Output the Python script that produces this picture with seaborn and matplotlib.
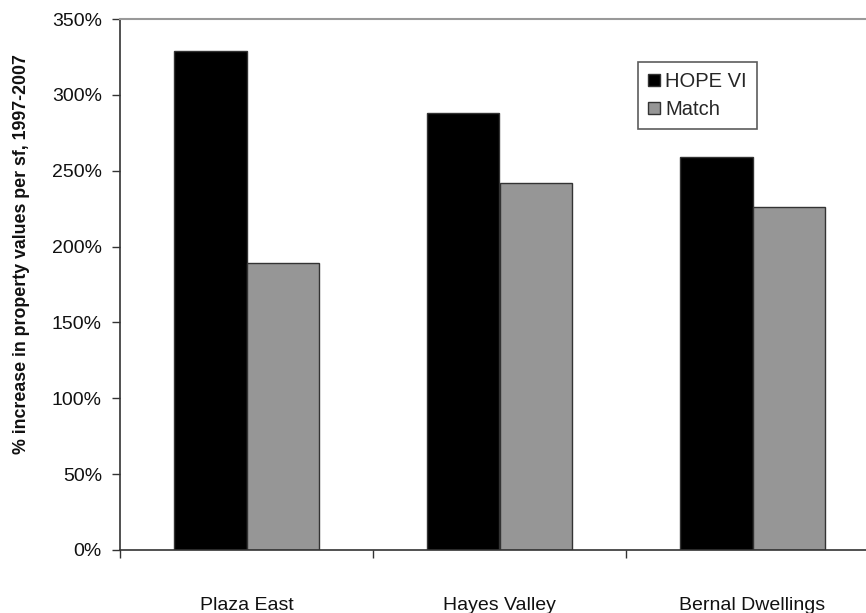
import numpy as np
import matplotlib.pyplot as plt
import seaborn as sns
import pandas as pd
from matplotlib.ticker import PercentFormatter, FixedLocator

sns.set_theme(style='white')
plt.rcParams['font.family'] = ['Liberation Sans', 'DejaVu Sans']

# Data
sites = ['Plaza East', 'Hayes Valley', 'Bernal Dwellings']
hope_vi = [329, 288, 259]
match = [189, 242, 226]

df = pd.DataFrame({
    'site': sites * 2,
    'group': ['HOPE VI'] * 3 + ['Match'] * 3,
    'pct': hope_vi + match,
})

fig = plt.figure(figsize=(8.66, 6.13), dpi=100)
ax = fig.add_axes([120 / 866, 1 - 550 / 613, 759 / 866, 531 / 613])

sns.barplot(data=df, x='site', y='pct', hue='group', ax=ax,
            palette=['#000000', '#969696'], width=0.57, saturation=1,
            edgecolor='#333333', linewidth=1)

ax.set_xlim(-0.5, 2.5)
ax.set_ylim(0, 350)
ax.set_yticks(np.arange(0, 351, 50))
ax.yaxis.set_major_formatter(PercentFormatter(decimals=0))
ax.tick_params(axis='y', which='major', left=True, length=6, width=1,
               color='#333333', labelsize=14, pad=7, labelcolor='#111111')

# category labels far below, tick marks between categories
ax.tick_params(axis='x', which='major', length=0, labelsize=14, pad=34,
               labelcolor='#111111')
ax.xaxis.set_minor_locator(FixedLocator([-0.5, 0.5, 1.5]))
ax.tick_params(axis='x', which='minor', bottom=True, length=6, width=1,
               color='#333333')

ax.set_xlabel('')
ax.set_ylabel('% increase in property values per sf, 1997-2007',
              fontsize=12.8, fontweight='bold', color='#111111')
ax.yaxis.set_label_coords(-0.118, 0.557)

for s in ['left', 'bottom']:
    ax.spines[s].set_color('#333333')
    ax.spines[s].set_linewidth(1.2)
ax.spines['top'].set_color('#999999')
ax.spines['top'].set_linewidth(1.5)
ax.spines['right'].set_visible(False)

leg = ax.legend(title=None, loc='upper left',
                bbox_to_anchor=(638 / 866, 1 - 62 / 613),
                bbox_transform=fig.transFigure, fontsize=14.5,
                frameon=True, fancybox=False, edgecolor='#333333',
                handlelength=0.6, handleheight=0.6, handletextpad=0.25,
                borderpad=0.5, labelspacing=0.45, borderaxespad=0)
leg.get_frame().set_linewidth(1.2)

fig.savefig('out.png', dpi=100)
